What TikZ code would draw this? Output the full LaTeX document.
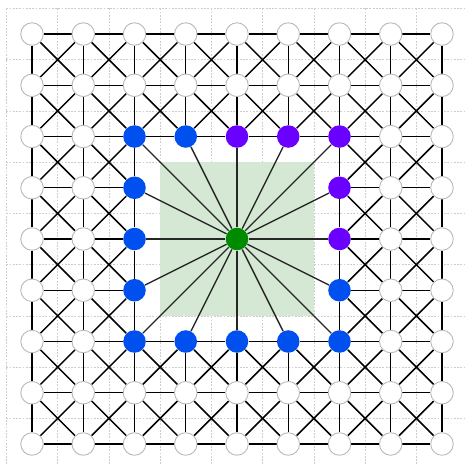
\documentclass[tikz,border=0pt]{standalone}
\usepackage{xcolor}
\usepackage{tikz}
\usetikzlibrary{backgrounds}
\definecolor{hubgreen}{HTML}{008A00}
\definecolor{ringblue}{HTML}{0050EF}
\definecolor{ringpurple}{HTML}{6A00FF}
\definecolor{zonegreen}{HTML}{D5E8D4}
\tikzset{
  cell/.style={circle, draw=gray!55, fill=white, minimum size=0.44cm, inner sep=0pt, line width=0.5pt},
  hub/.style={cell, draw=none, fill=hubgreen},
  blueball/.style={cell, draw=none, fill=ringblue},
  purpleball/.style={cell, draw=none, fill=ringpurple},
  link/.style={draw=black, line width=0.8pt},
  spoke/.style={draw=black!85, line width=0.75pt},
  gridline/.style={draw=gray!40, dash pattern=on 1pt off 0.8pt, line width=0.4pt},
}

\begin{document}
\begin{tikzpicture}
  \useasboundingbox (-0.625,0.664) rectangle (8.43,-8.41);
  % background grid and the shaded zone
  \begin{pgfonlayer}{background}
    \foreach \g in {-0.5,0.5,...,7.5} {
      \draw[gridline] (\g,0.5) -- (\g,-8.41);
      \draw[gridline] (-0.5,-\g) -- (8.43,-\g);
    }
    \draw[gridline] (-0.5,0.5) -- (8.43,0.5);
    \fill[zonegreen] (2.5,-2.5) rectangle (5.5,-5.5);
  \end{pgfonlayer}
  % nodes
  \foreach \i in {0,...,8} {
    \foreach \j in {0,...,8} {
      \pgfmathtruncatemacro{\dd}{max(abs(\i-4),abs(\j-4))}
      \pgfmathtruncatemacro{\pp}{((\j==2) && (\i>=4)) || ((\i==6) && (\j<=4))}
      \ifcase\dd
        \node[hub] (n-\i-\j) at (\i,-\j) {};
      \or
      \or
        \ifnum\pp=1
          \node[purpleball] (n-\i-\j) at (\i,-\j) {};
        \else
          \node[blueball] (n-\i-\j) at (\i,-\j) {};
        \fi
      \else
        \node[cell] (n-\i-\j) at (\i,-\j) {};
      \fi
    }
  }
  % links between neighbours, and spokes from the hub
  \begin{pgfonlayer}{background}
    \foreach \i in {0,...,8} {
      \foreach \j in {0,...,8} {
        \foreach \di/\dj in {1/0,0/1,1/1,1/-1} {
          \pgfmathtruncatemacro{\tx}{\i+\di}
          \pgfmathtruncatemacro{\ty}{\j+\dj}
          \pgfmathtruncatemacro{\da}{max(abs(\i-4),abs(\j-4))}
          \pgfmathtruncatemacro{\db}{max(abs(\tx-4),abs(\ty-4))}
          \pgfmathtruncatemacro{\ok}{(\tx<=8) && (\ty>=0) && (\ty<=8) && (\da>1) && (\db>1) && !((\da==2) && (\db==2) && (\di*\dj!=0))}
          \ifnum\ok=1
            \draw[link] (n-\i-\j) -- (n-\tx-\ty);
          \fi
        }
      }
    }
    \foreach \i in {2,...,6} {
      \foreach \j in {2,...,6} {
        \pgfmathtruncatemacro{\dd}{max(abs(\i-4),abs(\j-4))}
        \ifnum\dd=2
          \draw[spoke] (n-4-4) -- (n-\i-\j);
        \fi
      }
    }
  \end{pgfonlayer}
\end{tikzpicture}
\end{document}
